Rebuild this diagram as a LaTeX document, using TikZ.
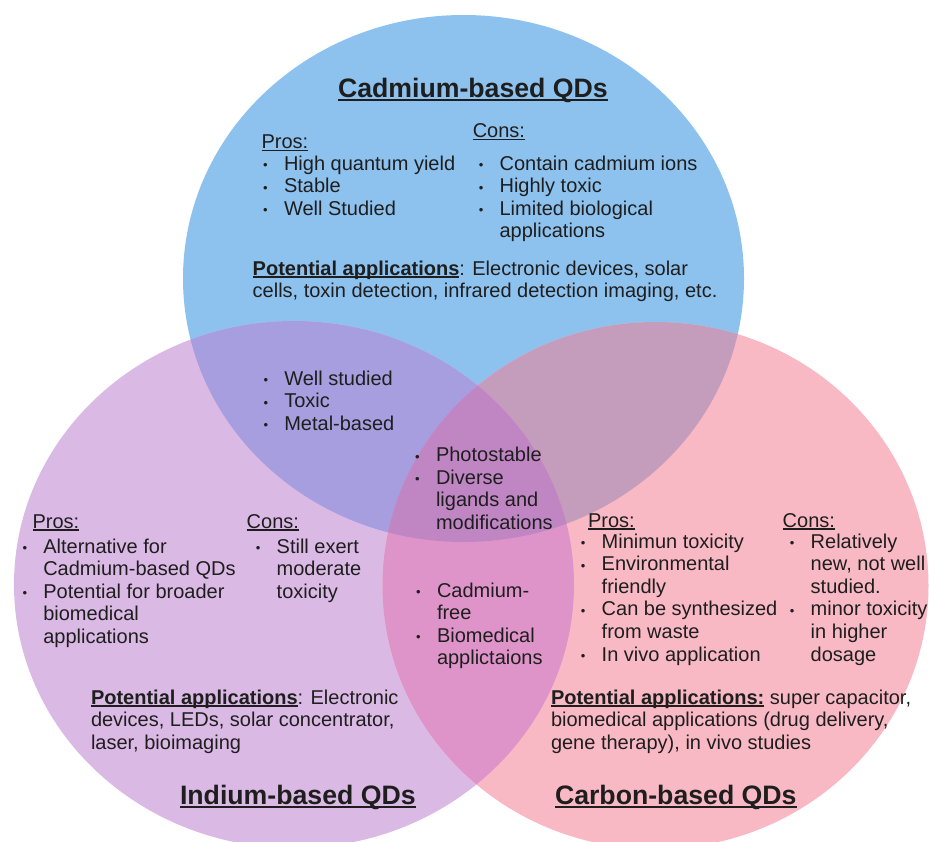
\documentclass[tikz,border=0pt]{standalone}
\usepackage{fontspec}
\setmainfont{Liberation Sans}
\definecolor{cB}{HTML}{8EC2EE}
\definecolor{cP}{HTML}{DBB9E5}
\definecolor{cK}{HTML}{F9B9C4}
\definecolor{cBP}{HTML}{A69EDE}
\definecolor{cBK}{HTML}{C59DBC}
\definecolor{cPK}{HTML}{DE94C8}
\definecolor{cC}{HTML}{C086C4}
\definecolor{txt}{HTML}{1E1E1E}
\newcommand\myul[1]{\setbox0\hbox{#1}\rlap{\rule[-2.6pt]{\wd0}{1.3pt}}\box0}
\newcommand\myulT[1]{\setbox0\hbox{#1}\rlap{\rule[-3.6pt]{\wd0}{2pt}}\box0}
\newcommand\bu{\llap{\makebox[20.8pt][l]{\raisebox{0.5pt}{\fontsize{13}{13}\selectfont •}}}}
\newcommand\li[1]{\hbox{\bu #1}}
\newcommand\lc[1]{\hbox{#1}}
\tikzset{
  tx/.style={anchor=base west, inner sep=0pt, outer sep=0pt, font=\fontsize{20}{22.6}\selectfont, text=txt},
  ttl/.style={anchor=base west, inner sep=0pt, outer sep=0pt, font=\fontsize{26.67}{30}\selectfont\bfseries, text=txt}
}
\begin{document}
\begin{tikzpicture}[x=1pt,y=-1pt]
\useasboundingbox (0,0) rectangle (929,841);
\fill[white] (0,0) rectangle (929,841);
% circles
\fill[cB] (463.5,278.5) ellipse [x radius=280.5pt, y radius=263.5pt];
\fill[cP] (294,584.5) ellipse [x radius=280pt, y radius=263.5pt];
\fill[cK] (655.5,585.5) ellipse [x radius=273pt, y radius=263.5pt];
\begin{scope}
  \clip (463.5,278.5) ellipse [x radius=280.5pt, y radius=263.5pt];
  \fill[cBP] (294,584.5) ellipse [x radius=280pt, y radius=263.5pt];
  \fill[cBK] (655.5,585.5) ellipse [x radius=273pt, y radius=263.5pt];
\end{scope}
\begin{scope}
  \clip (294,584.5) ellipse [x radius=280pt, y radius=263.5pt];
  \fill[cPK] (655.5,585.5) ellipse [x radius=273pt, y radius=263.5pt];
\end{scope}
\begin{scope}
  \clip (463.5,278.5) ellipse [x radius=280.5pt, y radius=263.5pt];
  \clip (294,584.5) ellipse [x radius=280pt, y radius=263.5pt];
  \fill[cC] (655.5,585.5) ellipse [x radius=273pt, y radius=263.5pt];
\end{scope}
% Cadmium
\node[ttl] (cdtitle) at (338,97) {\myulT{Cadmium-based QDs}};
\node[tx] (cdpros) at (261.5,148.5) {\myul{Pros:}};
\node[tx] (cdcons) at (472.8,137.5) {\myul{Cons:}};
\node[tx] (cdproslist) at (284,170) {\vtop{\li{High quantum yield}\li{Stable}\li{Well Studied}}};
\node[tx] (cdconslist) at (499.6,170) {\vtop{\li{Contain cadmium ions}\li{Highly toxic}\li{Limited biological}\lc{applications}}};
\node[tx] (cdapp) at (252.7,275) {\vtop{\lc{\textbf{\myul{Potential applications}}: Electronic devices, solar}\lc{cells, toxin detection, infrared detection imaging, etc.}}};
% overlaps
\node[tx] (bp) at (284.3,385) {\vtop{\li{Well studied}\li{Toxic}\li{Metal-based}}};
\node[tx] (center) at (436,461.5) {\vtop{\li{Photostable}\li{Diverse}\lc{ligands and}\lc{modifications}}};
\node[tx] (pk) at (437,597) {\vtop{\li{Cadmium-}\lc{free}\li{Biomedical}\lc{applictaions}}};
% Indium
\node[tx] (inpros) at (32.5,528) {\myul{Pros:}};
\node[tx] (incons) at (246.7,528) {\myul{Cons:}};
\node[tx] (inproslist) at (43.3,553) {\vtop{\li{Alternative for}\lc{Cadmium-based QDs}\li{Potential for broader}\lc{biomedical}\lc{applications}}};
\node[tx] (inconslist) at (276.7,553) {\vtop{\li{Still exert}\lc{moderate}\lc{toxicity}}};
\node[tx] (inapp) at (91,704) {\vtop{\lc{\textbf{\myul{Potential applications}}: Electronic}\lc{devices, LEDs, solar concentrator,}\lc{laser, bioimaging}}};
\node[ttl] (intitle) at (180,804) {\myulT{Indium-based QDs}};
% Carbon
\node[tx] (cpros) at (588,527) {\myul{Pros:}};
\node[tx] (ccons) at (782.7,527) {\myul{Cons:}};
\node[tx] (cproslist) at (601.7,548) {\vtop{\li{Minimun toxicity}\li{Environmental}\lc{friendly}\li{Can be synthesized}\lc{from waste}\li{In vivo application}}};
\node[tx] (cconslist) at (810.7,548) {\vtop{\li{Relatively}\lc{new, not well}\lc{studied.}\li{minor toxicity}\lc{in higher}\lc{dosage}}};
\node[tx] (capp) at (551,704) {\vtop{\lc{\textbf{\myul{Potential applications:}} super capacitor,}\lc{biomedical applications (drug delivery,}\lc{gene therapy), in vivo studies}}};
\node[ttl] (ctitle) at (555,804) {\myulT{Carbon-based QDs}};
\end{tikzpicture}
\end{document}
